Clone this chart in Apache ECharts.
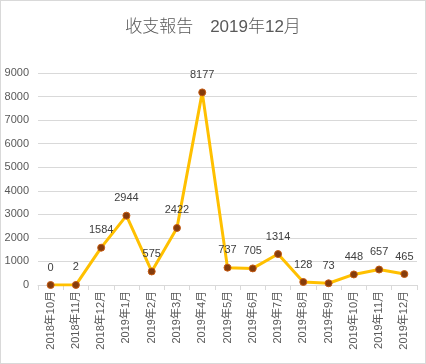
<!DOCTYPE html>
<html><head><meta charset="utf-8">
<script src="https://cdn.jsdelivr.net/npm/echarts@6/dist/echarts.min.js"></script>
<style>html,body{margin:0;padding:0;background:#fff}#c{width:424px;height:362px;border:1px solid #D9D9D9}</style>
</head><body><div id="c"></div>
<script>
const titleText = '收支報告　2019年12月';
const categories = ['2018年10月','2018年11月','2018年12月','2019年1月','2019年2月','2019年3月','2019年4月','2019年5月','2019年6月','2019年7月','2019年8月','2019年9月','2019年10月','2019年11月','2019年12月'];
const values = [0,2,1584,2944,575,2422,8177,737,705,1314,128,73,448,657,465];
const yTicks = {min:0, max:9000, interval:1000};
const FONT = '"Liberation Sans","Noto Sans CJK JP",sans-serif';
const chart = echarts.init(document.getElementById('c'));
chart.setOption({
  animation:false,
  title:{text:titleText,left:'center',top:13,textStyle:{fontFamily:FONT,fontSize:17,fontWeight:300,color:'#595959'}},
  grid:{left:37,right:8,top:72,bottom:78,containLabel:false},
  xAxis:{type:'category',data:categories,boundaryGap:true,
    axisLine:{lineStyle:{color:'#D9D9D9'}},
    axisTick:{show:true,length:5,lineStyle:{color:'#D9D9D9'}},
    axisLabel:{rotate:90,interval:0,color:'#595959',fontFamily:FONT,fontSize:11,margin:6}},
  yAxis:{type:'value',min:yTicks.min,max:yTicks.max,interval:yTicks.interval,
    axisLine:{show:false},axisTick:{show:false},
    splitLine:{lineStyle:{color:'#D9D9D9'}},
    axisLabel:{color:'#595959',fontFamily:FONT,fontSize:11,margin:9,formatter:function(v){return String(v);}}},
  series:[{type:'line',data:values,symbol:'circle',symbolSize:7,
    lineStyle:{color:'#FFC000',width:3},
    itemStyle:{color:'#843C0C',borderColor:'#C55A11',borderWidth:1},
    label:{show:true,position:'top',distance:8,color:'#404040',fontFamily:FONT,fontSize:11}}]
});
</script></body></html>
